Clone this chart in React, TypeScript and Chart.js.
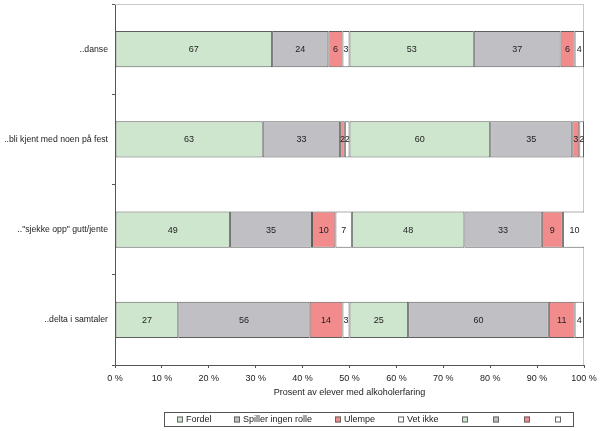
import React, { useEffect, useRef } from 'react';
import { Chart, registerables } from 'chart.js';

Chart.register(...registerables);

const categories = ['..danse', '..bli kjent med noen på fest', '.."sjekke opp" gutt/jente', '..delta i samtaler'];
const seriesNames = ['Fordel', 'Spiller ingen rolle', 'Ulempe', 'Vet ikke', '', '', '', ''];
const fordelA = [67, 63, 49, 27];
const spillerA = [24, 33, 35, 56];
const ulempeA = [6, 2, 10, 14];
const vetIkkeA = [3, 2, 7, 3];
const fordelB = [53, 60, 48, 25];
const spillerB = [37, 35, 33, 60];
const ulempeB = [6, 3, 9, 11];
const vetIkkeB = [4, 2, 10, 4];
const xTickLabels = ['0 %', '10 %', '20 %', '30 %', '40 %', '50 %', '60 %', '70 %', '80 %', '90 %', '100 %'];
const xTitle = 'Prosent av elever med alkoholerfaring';

const seriesValues = [fordelA, spillerA, ulempeA, vetIkkeA, fordelB, spillerB, ulempeB, vetIkkeB];
const seriesColors = ['#cde6cd', '#c0c0c4', '#f28c8c', '#ffffff', '#cde6cd', '#c0c0c4', '#f28c8c', '#ffffff'];

const FONT = '"Liberation Sans", Arial, sans-serif';
const AXIS = '#555555';
const TEXT = '#222222';

const frameLines = {
  id: 'frameLines',
  beforeDatasetsDraw(chart: any) {
    const { ctx, chartArea: a } = chart;
    ctx.save();
    ctx.strokeStyle = '#c8c8c8';
    ctx.lineWidth = 1;
    ctx.beginPath();
    ctx.moveTo(a.left, Math.round(a.top) + 0.5);
    ctx.lineTo(a.right, Math.round(a.top) + 0.5);
    ctx.moveTo(Math.round(a.right) - 0.5, a.top);
    ctx.lineTo(Math.round(a.right) - 0.5, a.bottom);
    ctx.stroke();
    ctx.restore();
  },
};

const barLabels = {
  id: 'barLabels',
  afterDatasetsDraw(chart: any) {
    const { ctx } = chart;
    ctx.save();
    ctx.font = `9px ${FONT}`;
    ctx.fillStyle = TEXT;
    ctx.textAlign = 'center';
    ctx.textBaseline = 'middle';
    chart.data.datasets.forEach((ds: any, di: number) => {
      const meta = chart.getDatasetMeta(di);
      meta.data.forEach((el: any, i: number) => {
        const p = el.getProps(['x', 'y', 'base'], true);
        ctx.fillText(String(ds.data[i]), (p.x + p.base) / 2, p.y + 0.5);
      });
    });
    ctx.restore();
  },
};

const boxLegend = {
  id: 'boxLegend',
  afterDraw(chart: any) {
    const { ctx, chartArea: a } = chart;
    const xs = chart.scales.x;
    ctx.save();
    ctx.font = `9px ${FONT}`;
    const box = 6, gap = 3, spacing = 23, padL = 13, padR = 10;
    const ds = chart.data.datasets;
    const widths = ds.map((d: any) => box + (d.label ? gap + ctx.measureText(d.label).width : 2));
    const total = widths.reduce((s: number, w: number) => s + w, 0) + spacing * (widths.length - 1) + padL + padR;
    const right = a.right - 11;
    const left = right - total;
    const top = xs.bottom + 11;
    const h = 14;
    ctx.strokeStyle = AXIS;
    ctx.lineWidth = 1;
    ctx.strokeRect(Math.round(left) + 0.5, Math.round(top) + 0.5, Math.round(total), h);
    const cy = Math.round(top + h / 2) + 0.5;
    let x = left + padL;
    ds.forEach((d: any, i: number) => {
      const bx = Math.round(x);
      ctx.fillStyle = d.backgroundColor;
      ctx.fillRect(bx, cy - 3, box, box);
      ctx.strokeStyle = '#666666';
      ctx.strokeRect(bx + 0.5, cy - 2.5, box - 1, box - 1);
      if (d.label) {
        ctx.fillStyle = TEXT;
        ctx.textAlign = 'left';
        ctx.textBaseline = 'middle';
        ctx.fillText(d.label, bx + box + gap, cy);
      }
      x += widths[i] + spacing;
    });
    ctx.restore();
  },
};

export default function App() {
  const ref = useRef<HTMLCanvasElement>(null);
  useEffect(() => {
    if (!ref.current) return;
    Chart.defaults.font.family = FONT;
    const chart = new Chart(ref.current, {
      type: 'bar',
      data: {
        labels: categories,
        datasets: seriesValues.map((vals, i) => ({
          label: seriesNames[i],
          data: vals,
          backgroundColor: seriesColors[i],
          borderColor: '#5e5e5e',
          borderWidth: 1,
          borderSkipped: false,
          barPercentage: 0.4,
          categoryPercentage: 1,
        })),
      },
      options: {
        indexAxis: 'y',
        animation: false,
        responsive: false,
        layout: { padding: { top: 0, right: 16, bottom: 30, left: 0 } },
        plugins: { legend: { display: false }, tooltip: { enabled: false } },
        scales: {
          x: {
            type: 'linear',
            stacked: true,
            min: 0,
            max: 200,
            afterFit: (s: any) => { s.height = 36; s.paddingLeft = 0; s.paddingRight = 0; },
            ticks: {
              stepSize: 20,
              autoSkip: false,
              maxRotation: 0,
              padding: 5,
              color: TEXT,
              font: { size: 9, family: FONT },
              callback: (v: any) => xTickLabels[Math.round(Number(v) / 20)],
            },
            grid: { drawOnChartArea: false, tickLength: 3, color: AXIS },
            border: { color: AXIS },
            title: { display: true, text: xTitle, color: TEXT, font: { size: 9, family: FONT }, padding: { top: 2, bottom: 3 } },
          },
          y: {
            type: 'category',
            stacked: true,
            afterFit: (s: any) => { s.width = 115; s.paddingTop = 4; s.paddingBottom = 0; },
            ticks: { padding: 4, color: TEXT, font: { size: 8.7, family: FONT } },
            grid: { offset: true, drawOnChartArea: false, tickLength: 3, color: AXIS },
            border: { color: AXIS },
          },
        },
      },
      plugins: [frameLines, barLabels, boxLegend],
    });
    return () => chart.destroy();
  }, []);
  return (
    <div style={{ position: 'absolute', left: 0, top: 0, width: 600, height: 431 }}>
      <canvas ref={ref} width={600} height={431} style={{ display: 'block' }} />
    </div>
  );
}
